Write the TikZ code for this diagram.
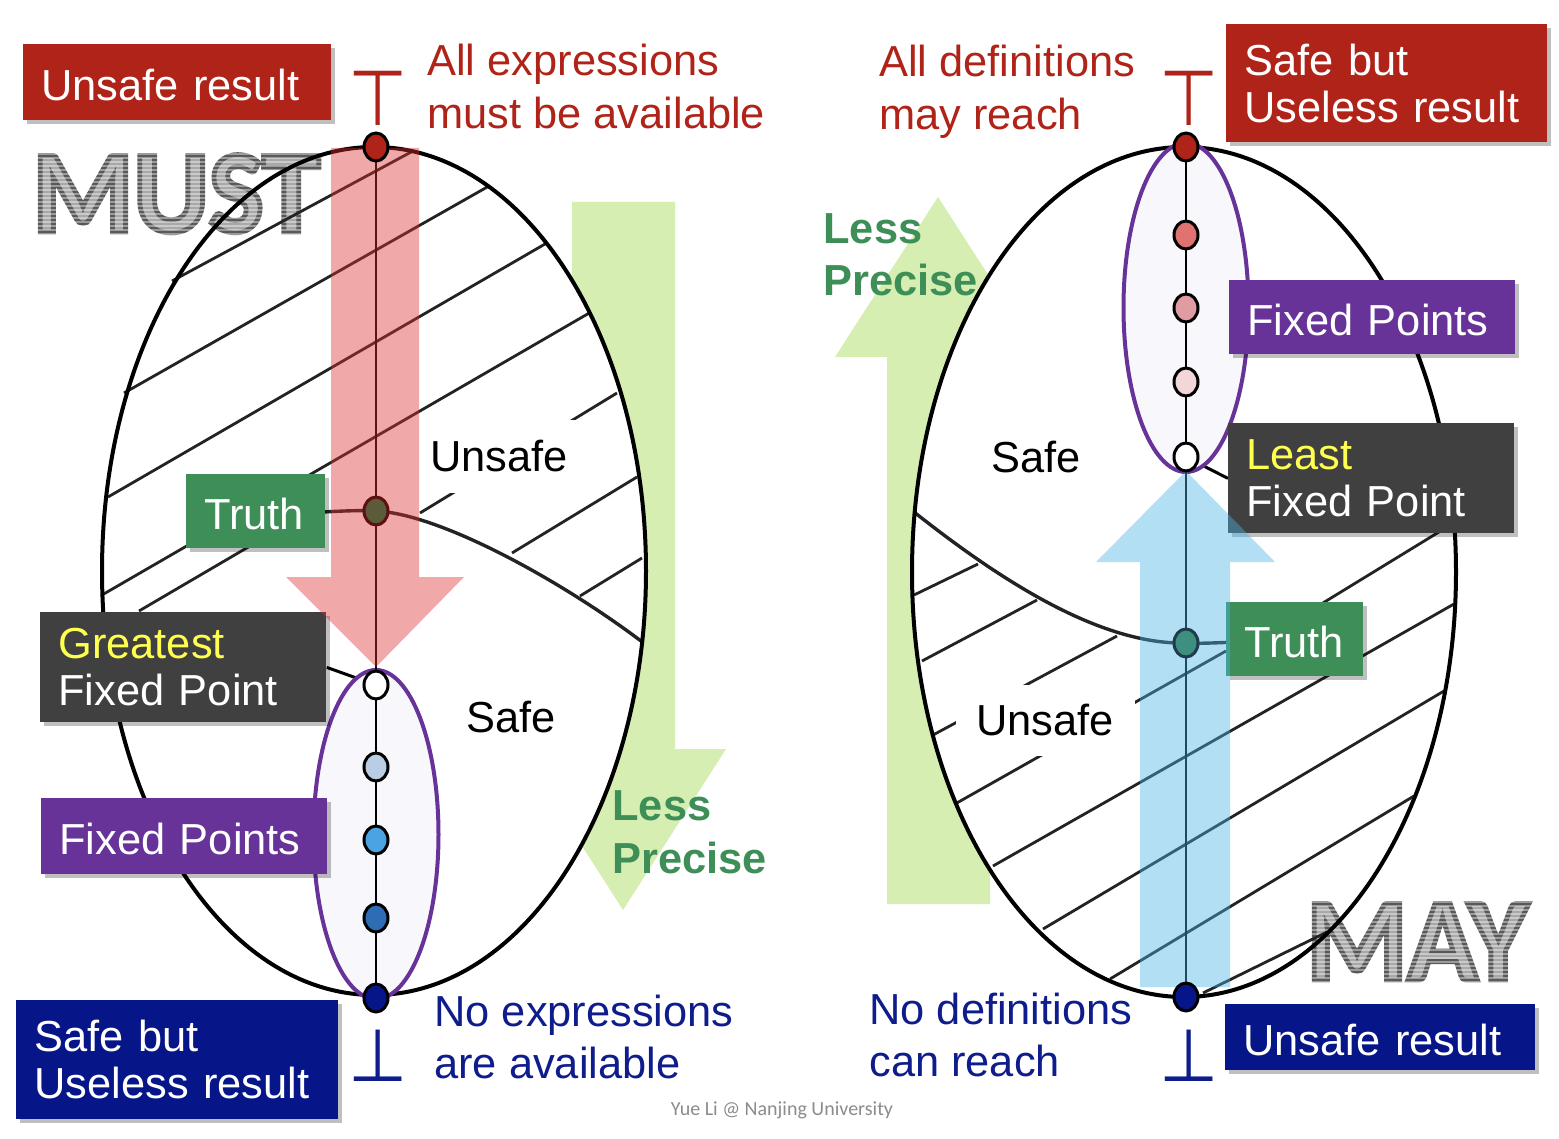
\documentclass[tikz,border=0pt]{standalone}
\usepackage{fontspec}
\setmainfont{Liberation Sans}
\newfontfamily\calfont{Carlito}
\newfontfamily\wordfont{Carlito}[FakeStretch=0.98]
\newfontfamily\dejavu{DejaVu Sans}
\usetikzlibrary{shapes.geometric,shadows}
\definecolor{cred}{RGB}{176,35,24}
\definecolor{cnavy}{RGB}{6,22,137}
\definecolor{cnavytext}{RGB}{14,28,140}
\definecolor{cpurple}{RGB}{103,51,152}
\definecolor{cdark}{RGB}{64,64,64}
\definecolor{cgreen}{RGB}{62,142,87}
\definecolor{cyellow}{RGB}{255,255,80}
\definecolor{cpale}{RGB}{214,238,177}
\definecolor{carrowred}{RGB}{221,50,48}
\definecolor{carrowblue}{RGB}{74,181,231}
\definecolor{cpurpfill}{RGB}{248,248,252}
\definecolor{chatch}{RGB}{35,35,35}
\definecolor{cwordfill}{RGB}{168,168,168}
\definecolor{cfoot}{RGB}{140,140,140}
\pgfdeclarelayer{greenL}
\pgfdeclarelayer{ellL}
\pgfdeclarelayer{wordL}
\pgfdeclarelayer{lineL}
\pgfdeclarelayer{purpL}
\pgfdeclarelayer{arrowL}
\pgfdeclarelayer{nodeL}
\pgfsetlayers{greenL,ellL,wordL,lineL,purpL,main,arrowL,nodeL}
\newcommand{\outlinedword}[1]{\special{pdf:literal direct q 2 Tr 2.4 w 0.35 0.35 0.35 RG}#1\special{pdf:literal direct Q}}
\begin{document}
\begin{tikzpicture}[x=0.5pt,y=-0.5pt,
  tbox/.style={rectangle, anchor=north west, inner xsep=9pt, inner ysep=0pt, align=left, text=white,
    font=\fontsize{21.7pt}{23.5pt}\selectfont,
    drop shadow={shadow xshift=2pt,shadow yshift=-2pt,opacity=0.25,fill=black}},
  oneline/.style={text height=18pt, text depth=0pt},
  lbl/.style={anchor=base west, inner sep=0pt, font=\fontsize{21.7pt}{26pt}\selectfont},
  lblb/.style={anchor=base west, inner sep=0pt, font=\bfseries\fontsize{21.7pt}{26pt}\selectfont, text=cgreen},
  fpnode/.style={ellipse, draw=black, line width=1.5pt, minimum width=12pt, minimum height=14pt, inner sep=0pt},
  hatch/.style={draw=chatch, line width=1.4pt},
  bigell/.style={draw=black, line width=2pt},
  word/.style={anchor=base west, inner sep=0pt, text=cwordfill, font=\wordfont\bfseries\fontsize{59pt}{59pt}\selectfont},
  tack/.style={anchor=base, inner sep=0pt, font=\dejavu\fontsize{34pt}{34pt}\selectfont},
  zone/.style={inner sep=0pt, font=\fontsize{21.7pt}{26pt}\selectfont},
  conn/.style={draw=black, line width=1.5pt},
  curv/.style={draw=chatch, line width=1.7pt}
]
\useasboundingbox (0,0) rectangle (1559,1139);

% ---------- background and green arrows
\begin{pgfonlayer}{greenL}
\fill[white] (0,0) rectangle (1559,1139);
\fill[cpale] (572,202) -- (675,202) -- (675,749) -- (726,749) -- (623,910) -- (520,749) -- (572,749) -- cycle;
\fill[cpale] (887,904) -- (990,904) -- (990,357) -- (1041,357) -- (938,197) -- (835,357) -- (887,357) -- cycle;
\end{pgfonlayer}

% ---------- ellipse fills
\begin{pgfonlayer}{ellL}
\fill[white] (374,571) ellipse [x radius=136pt, y radius=212pt];
\fill[white] (1184,572) ellipse [x radius=136pt, y radius=212.5pt];
\end{pgfonlayer}

% ---------- MUST / MAY
\begin{pgfonlayer}{wordL}
\node[word] (must) at (32,232) {\outlinedword{MUST}};
\node[word] (may) at (1306,980) {\outlinedword{MAY}};
\foreach \yy in {154,158,...,234} {
  \draw[white, line width=0.6pt, opacity=0.4] (26,\yy) -- (328,\yy);
}
\foreach \yy in {902,906,...,982} {
  \draw[white, line width=0.6pt, opacity=0.4] (1300,\yy) -- (1540,\yy);
}
\end{pgfonlayer}

% ---------- coordinates of lattice points
\coordinate (p1top) at (376,147);
\coordinate (p1truth) at (376,511);
\coordinate (p1gfp) at (376,685);
\coordinate (p1a) at (376,767);
\coordinate (p1b) at (376,840);
\coordinate (p1c) at (376,918);
\coordinate (p1bot) at (376,998);
\coordinate (p2top) at (1186,147);
\coordinate (p2a) at (1186,235);
\coordinate (p2b) at (1186,308);
\coordinate (p2c) at (1186,382);
\coordinate (p2lfp) at (1186,457);
\coordinate (p2truth) at (1186,643);
\coordinate (p2bot) at (1186,997);
\coordinate (c1end) at (641,641);
\coordinate (c2start) at (914,512);

% ---------- boxes (main layer)
\node[tbox, oneline, fill=cred, text width=136pt, minimum height=38pt] (ur1) at (23,44) {Unsafe result};
\node[tbox, fill=cred, text width=142.5pt, minimum height=59pt] (sbu2) at (1226,24) {Safe but\\Useless result};
\node[tbox, oneline, fill=cpurple, text width=125pt, minimum height=37pt] (fp2) at (1229,280) {Fixed Points};
\node[tbox, fill=cdark, text width=125pt, minimum height=55pt] (lfp) at (1228,423) {{\color{cyellow}Least}\\Fixed Point};
\node[tbox, oneline, fill=cgreen, text width=50.5pt, minimum height=37pt] (tr2) at (1226,602) {Truth};
\node[tbox, oneline, fill=cnavy, text width=137pt, minimum height=33pt] (ur2) at (1225,1004) {Unsafe result};
\node[tbox, oneline, fill=cgreen, text width=51.5pt, minimum height=37pt] (tr1) at (186,474) {Truth};
\node[tbox, fill=cdark, text width=125pt, minimum height=55pt] (gfp) at (40,612) {{\color{cyellow}Greatest}\\Fixed Point};
\node[tbox, oneline, fill=cpurple, text width=125pt, minimum height=38pt] (fp1) at (41,798) {Fixed Points};
\node[tbox, fill=cnavy, text width=143pt, minimum height=59.5pt] (sbu1) at (16,1000) {Safe but\\Useless result};

% zone labels
\node[zone, fill=white, minimum width=90pt, minimum height=36.5pt] (uns1) at (499,456) {Unsafe};
\node[zone, fill=white, minimum width=89.5pt, minimum height=35.5pt] (uns2) at (1045,720) {Unsafe};
\node[zone] (safe1) at (511,717) {Safe};
\node[zone] (safe2) at (1036,457) {Safe};

% free labels
\node[lbl, text=cred] (ae1) at (427,76) {All expressions};
\node[lbl, text=cred] (ae2) at (427,129) {must be available};
\node[lbl, text=cred] (ad1) at (879,77) {All definitions};
\node[lbl, text=cred] (ad2) at (879,130) {may reach};
\node[lbl, text=cnavytext] (ne1) at (434,1026) {No expressions};
\node[lbl, text=cnavytext] (ne2) at (434,1078) {are available};
\node[lbl, text=cnavytext] (nd1) at (869,1024) {No definitions};
\node[lbl, text=cnavytext] (nd2) at (869,1076) {can reach};
\node[lblb] (lp1a) at (612,820) {Less};
\node[lblb] (lp1b) at (612,873) {Precise};
\node[lblb] (lp2a) at (823,244) {Less};
\node[lblb] (lp2b) at (823,296) {Precise};
\node[tack, text=cred] (top1) at (378,126) {\scalebox{1}[1.14]{⊤}};
\node[tack, text=cred] (top2) at (1189,126) {\scalebox{1}[1.14]{⊤}};
\node[tack, text=cnavytext] (bot1) at (378,1081) {\scalebox{1}[1.08]{⊥}};
\node[tack, text=cnavytext] (bot2) at (1189,1081) {\scalebox{1}[1.08]{⊥}};
\node[font=\calfont\fontsize{10pt}{10pt}\selectfont, text=cfoot] (foot) at (782,1110) {Yue Li @ Nanjing University};

% ---------- hatch lines, curves, outlines
\begin{pgfonlayer}{lineL}
\draw[hatch] (172,281) -- (413,151);
\draw[hatch] (124,393) -- (489,186);
\draw[hatch] (108,497) -- (545,244);
\draw[hatch] (102,595) -- (591,312);
\draw[hatch] (139,611) -- (250,546);
\draw[hatch] (420,513) -- (617,393);
\draw[hatch] (512,553) -- (637,477);
\draw[hatch] (580,596) -- (642,558);
\draw[hatch] (914,595) -- (978,564);
\draw[hatch] (922,661) -- (1037,600);
\draw[hatch] (933,735) -- (1117,636);
\draw[hatch] (955,804) -- (1226,651);
\draw[hatch] (993,866) -- (1454,604);
\draw[hatch] (1043,929) -- (1444,691);
\draw[hatch] (1110,979) -- (1414,796);
\draw[hatch] (1203,993) -- (1327,932);
\draw[hatch] (1300,617) -- (1452,524);
\draw[curv] (tr1.center) .. controls (300,516) and (340,509) .. (p1truth) .. controls (440,514) and (560,580) .. (c1end);
\draw[curv] (c2start) .. controls (1000,580) and (1100,645) .. (p2truth) .. controls (1205,644) and (1230,642) .. (tr2.center);
\draw[bigell] (374,571) ellipse [x radius=136pt, y radius=212pt];
\draw[bigell] (1184,572) ellipse [x radius=136pt, y radius=212.5pt];
\draw[conn] (gfp.east) -- (p1gfp);
\draw[conn] (p2lfp) -- (lfp.west);
\end{pgfonlayer}

% ---------- purple fixed-point ellipses and chains
\begin{pgfonlayer}{purpL}
\filldraw[fill=cpurpfill, draw=cpurple, line width=2pt] (376,834.5) ellipse [x radius=31.25pt, y radius=82.25pt];
\filldraw[fill=cpurpfill, draw=cpurple, line width=2pt] (1186,307.5) ellipse [x radius=31.25pt, y radius=82.25pt];
\draw[black, line width=1pt] (p1top) -- (p1bot);
\draw[black, line width=1pt] (p2top) -- (p2bot);
\end{pgfonlayer}

% ---------- translucent arrows
\begin{pgfonlayer}{arrowL}
\fill[carrowred, fill opacity=0.42] (331,148) -- (419,148) -- (419,577) -- (464,577) -- (376,667) -- (286,577) -- (331,577) -- cycle;
\fill[carrowblue, fill opacity=0.42] (1140,987) -- (1230,987) -- (1230,562) -- (1275,562) -- (1186,471) -- (1096,562) -- (1140,562) -- cycle;
\end{pgfonlayer}

% ---------- lattice points
\begin{pgfonlayer}{nodeL}
\node[fpnode, fill=cred] (n1top) at (p1top) {};
\node[fpnode, fill={rgb,255:red,91;green,91;blue,58}, draw={rgb,255:red,92;green,16;blue,16}] (n1truth) at (p1truth) {};
\node[fpnode, fill=white] (n1gfp) at (p1gfp) {};
\node[fpnode, fill={rgb,255:red,185;green,205;blue,229}] (n1a) at (p1a) {};
\node[fpnode, fill={rgb,255:red,74;green,163;blue,227}] (n1b) at (p1b) {};
\node[fpnode, fill={rgb,255:red,46;green,109;blue,182}] (n1c) at (p1c) {};
\node[fpnode, fill=cnavy] (n1bot) at (p1bot) {};
\node[fpnode, fill=cred] (n2top) at (p2top) {};
\node[fpnode, fill={rgb,255:red,224;green,114;blue,114}] (n2a) at (p2a) {};
\node[fpnode, fill={rgb,255:red,224;green,156;blue,162}] (n2b) at (p2b) {};
\node[fpnode, fill={rgb,255:red,242;green,214;blue,216}] (n2c) at (p2c) {};
\node[fpnode, fill=white] (n2lfp) at (p2lfp) {};
\node[fpnode, fill={rgb,255:red,63;green,143;blue,128}, draw={rgb,255:red,30;green,60;blue,76}] (n2truth) at (p2truth) {};
\node[fpnode, fill=cnavy] (n2bot) at (p2bot) {};
\end{pgfonlayer}
\end{tikzpicture}
\end{document}
